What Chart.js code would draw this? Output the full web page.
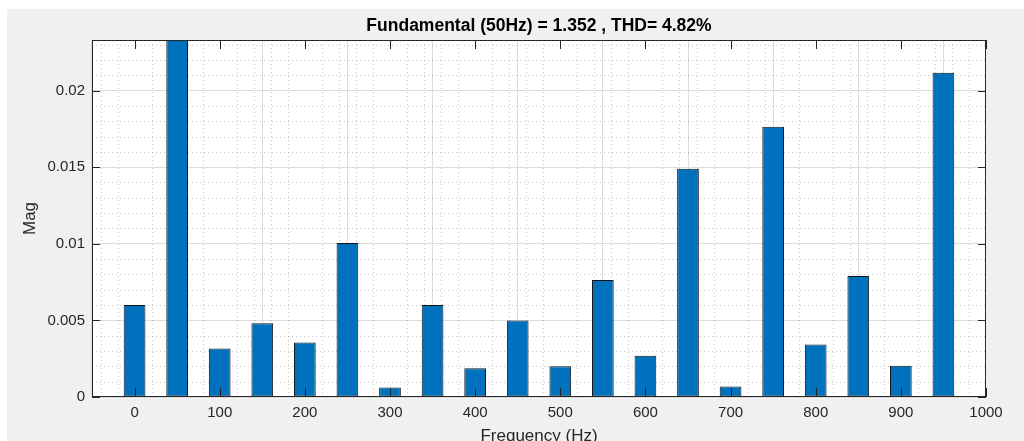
<!DOCTYPE html>
<html><head><meta charset="utf-8">
<script src="https://cdn.jsdelivr.net/npm/chart.js@4/dist/chart.umd.min.js"></script>
<style>html,body{margin:0;padding:0;background:#fff;overflow:hidden}#wrap{width:1024px;height:441px}</style>
</head><body><div id="wrap"><canvas id="c" width="1024" height="441"></canvas></div>
<script>
const titleText = 'Fundamental (50Hz) = 1.352 , THD= 4.82%';
const xLabel = 'Frequency (Hz)';
const yLabel = 'Mag';
const frequencies = [0, 50, 100, 150, 200, 250, 300, 350, 400, 450, 500, 550, 600, 650, 700, 750, 800, 850, 900, 950];
const magnitudes = [0.0060, 1.352, 0.00316, 0.00481, 0.00355, 0.01005, 0.00062, 0.0060, 0.00187, 0.0050,
                    0.0020, 0.00763, 0.0027, 0.01489, 0.00069, 0.01764, 0.00342, 0.00789, 0.00204, 0.02116];
const xTickValues = [0, 100, 200, 300, 400, 500, 600, 700, 800, 900, 1000];
const yTickValues = [0, 0.005, 0.01, 0.015, 0.02];
const xRange = [-50, 1000];
const yRange = [0, 0.0233];

const FONT = "'Liberation Sans', Arial, Helvetica, sans-serif";
const AX = '#262626';

const matlabAxes = {
  id: 'matlabAxes',
  beforeDraw(chart) {
    const {ctx, chartArea: a, width, height} = chart;
    ctx.save();
    ctx.fillStyle = '#ffffff'; ctx.fillRect(0, 0, width, height);
    ctx.fillStyle = '#f0f0f0'; ctx.fillRect(7, 9, width - 7, height - 9);
    ctx.fillStyle = '#ffffff'; ctx.fillRect(a.left, a.top, a.right - a.left, a.bottom - a.top);
    ctx.restore();
  },
  beforeDatasetsDraw(chart) {
    const {ctx, chartArea: a, scales: {x, y}} = chart;
    ctx.save();
    ctx.beginPath(); ctx.rect(a.left, a.top, a.right - a.left, a.bottom - a.top); ctx.clip();
    ctx.strokeStyle = 'rgba(0,0,0,0.22)'; ctx.lineWidth = 1; ctx.setLineDash([1, 3]);
    for (let v = Math.ceil(x.min / 20) * 20; v <= x.max; v += 20) {
      if (v % 100 === 0) continue;
      const px = Math.round(x.getPixelForValue(v)) + 0.5;
      ctx.beginPath(); ctx.moveTo(px, a.top); ctx.lineTo(px, a.bottom); ctx.stroke();
    }
    for (let k = 1; k * 0.001 <= y.max; k++) {
      if (k % 5 === 0) continue;
      const py = Math.round(y.getPixelForValue(k * 0.001)) + 0.5;
      ctx.beginPath(); ctx.moveTo(a.left, py); ctx.lineTo(a.right, py); ctx.stroke();
    }
    ctx.restore();
  },
  afterDatasetsDraw(chart) {
    const {ctx, chartArea: a, scales: {x, y}} = chart;
    ctx.save();
    ctx.strokeStyle = AX; ctx.lineWidth = 1; ctx.setLineDash([]);
    ctx.beginPath();
    xTickValues.forEach(v => {
      const px = Math.round(x.getPixelForValue(v)) + 0.5;
      ctx.moveTo(px, a.bottom); ctx.lineTo(px, a.bottom - 9);
      ctx.moveTo(px, a.top); ctx.lineTo(px, a.top + 9);
    });
    yTickValues.forEach(v => {
      const py = Math.round(y.getPixelForValue(v)) + 0.5;
      ctx.moveTo(a.left, py); ctx.lineTo(a.left + 8, py);
      ctx.moveTo(a.right, py); ctx.lineTo(a.right - 8, py);
    });
    ctx.stroke();
    ctx.strokeRect(a.left + 0.5, a.top + 0.5, a.right - a.left - 1, a.bottom - a.top - 1);
    ctx.restore();
  }
};

new Chart(document.getElementById('c'), {
  type: 'bar',
  data: {
    datasets: [{
      data: frequencies.map((f, i) => ({x: f, y: magnitudes[i]})),
      backgroundColor: '#0072BD',
      borderColor: '#151515',
      borderWidth: 1,
      borderSkipped: false,
      categoryPercentage: 1,
      barPercentage: 0.51
    }]
  },
  options: {
    responsive: false,
    animation: false,
    devicePixelRatio: 1,
    layout: {padding: {left: 0, right: 38, top: 0, bottom: 0}},
    plugins: {
      legend: {display: false},
      tooltip: {enabled: false},
      title: {
        display: true, text: titleText, color: '#000', fullSize: false,
        font: {family: FONT, size: 17.5, weight: 'bold', lineHeight: 1.2},
        padding: {top: 16, bottom: 3}
      }
    },
    scales: {
      x: {
        type: 'linear', min: xRange[0], max: xRange[1], offset: false,
        afterBuildTicks: s => { s.ticks = xTickValues.map(v => ({value: v})); },
        afterFit: s => { s.height = 44; },
        grid: {color: '#dcdcdc', drawTicks: false, lineWidth: 1},
        border: {display: false},
        ticks: {color: AX, font: {family: FONT, size: 15}, padding: 7, maxRotation: 0, autoSkip: false,
                callback: v => String(v)},
        title: {display: true, text: xLabel, color: AX, font: {family: FONT, size: 17, lineHeight: 1.2},
                padding: {top: 0, bottom: -6}}
      },
      y: {
        type: 'linear', min: yRange[0], max: yRange[1],
        afterBuildTicks: s => { s.ticks = yTickValues.map(v => ({value: v})); },
        afterFit: s => { s.width = 92; },
        grid: {color: '#dcdcdc', drawTicks: false, lineWidth: 1},
        border: {display: false},
        ticks: {color: AX, font: {family: FONT, size: 15}, padding: 7, autoSkip: false,
                callback: v => String(+(+v).toFixed(4))},
        title: {display: true, text: yLabel, color: AX, font: {family: FONT, size: 17, lineHeight: 1.2},
                padding: {top: 20, bottom: 0}}
      }
    }
  },
  plugins: [matlabAxes]
});
</script>
</body></html>
